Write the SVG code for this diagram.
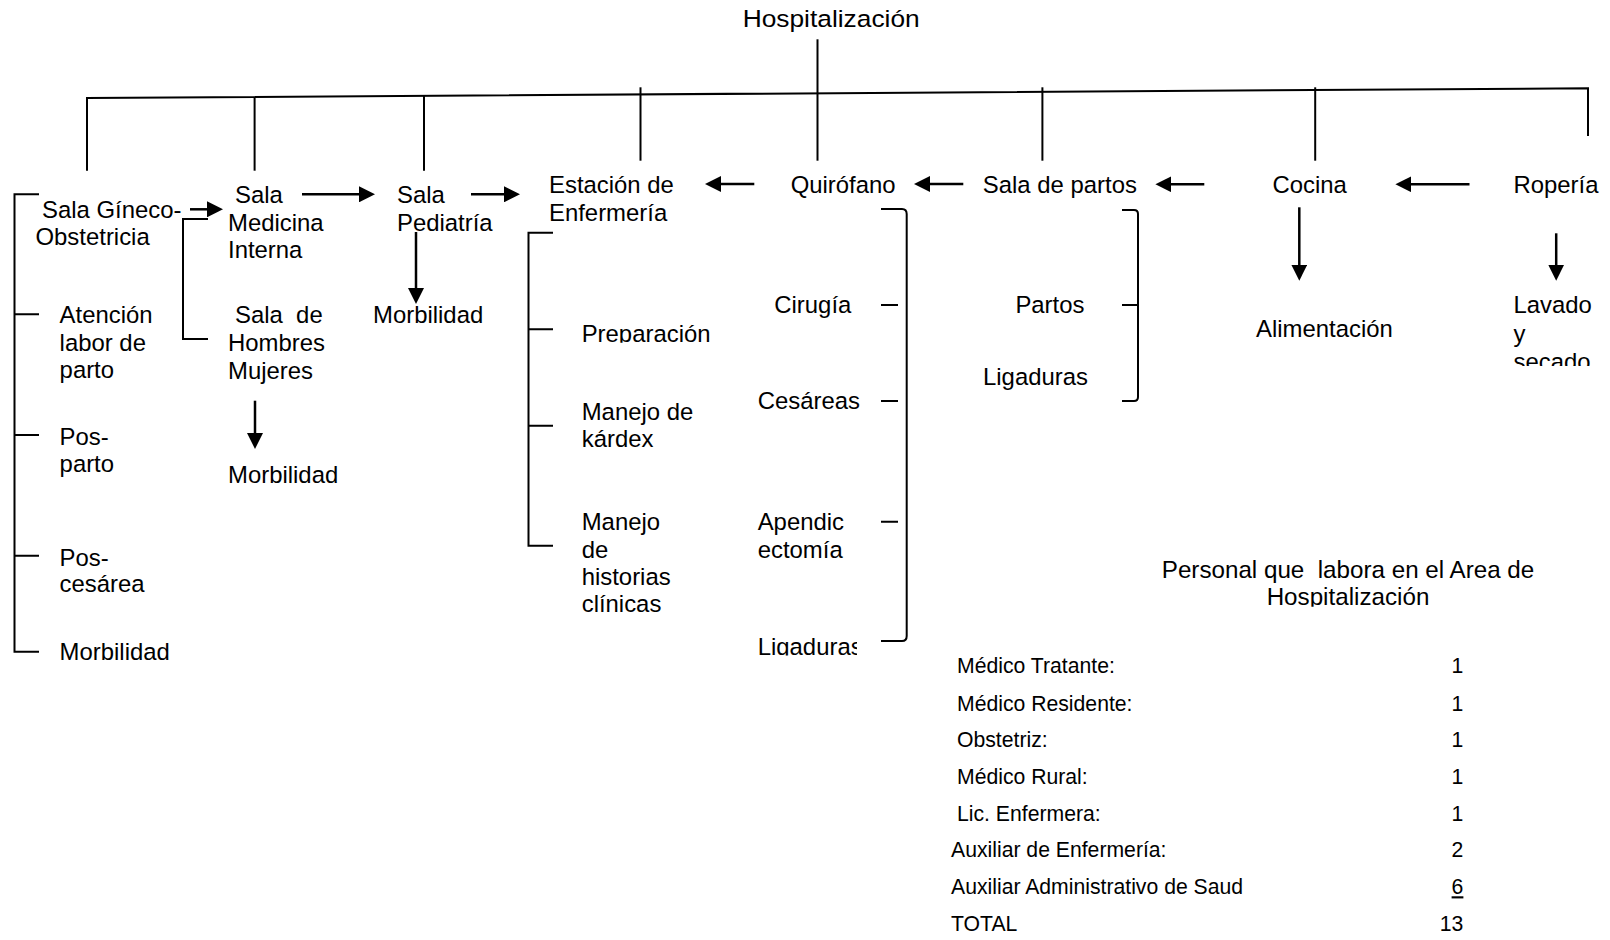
<svg xmlns="http://www.w3.org/2000/svg" width="1610" height="940" viewBox="0 0 1610 940">
<style>
text{font-family:"Liberation Sans",Arial,sans-serif;font-size:23.9px;fill:#000}
.t{font-size:21.2px}
.p{font-size:24.2px}
.ln{fill:none;stroke:#000;stroke-width:2}
.ar{fill:none;stroke:#000;stroke-width:2.5;marker-end:url(#ah)}
</style>
<defs>
<marker id="ah" markerUnits="userSpaceOnUse" markerWidth="16" markerHeight="16" refX="8" refY="8" orient="auto">
<path d="M0,0 L16,8 L0,16 z" fill="#000"/>
</marker>
<clipPath id="cPrep"><rect x="570" y="300" width="200" height="42.7"/></clipPath>
<clipPath id="cLig"><rect x="740" y="620" width="117" height="35.5"/></clipPath>
<clipPath id="cLav"><rect x="1500" y="290" width="110" height="76"/></clipPath>
<clipPath id="cHosp2"><rect x="1150" y="560" width="400" height="46.7"/></clipPath>
</defs>
<rect width="1610" height="940" fill="#fff"/>
<g id="connectors">
<path class="ln" d="M87,170.7 V98 L1588,88.3 V136"/>
<path class="ln" d="M254.6,96.9 V170.7"/>
<path class="ln" d="M424,95.8 V170.7"/>
<path class="ln" d="M640.5,87.3 V160.7"/>
<path class="ln" d="M817.5,39.3 V160.7"/>
<path class="ln" d="M1042.4,87.3 V160.7"/>
<path class="ln" d="M1315.2,87.3 V160.7"/>
<path class="ln" d="M39,194.3 H14.5 V651.7 H39 M14.5,314.3 H39 M14.5,435 H39 M14.5,555.7 H39"/>
<path class="ln" d="M208,219 H183 V339 H208"/>
<path class="ln" d="M553,232.7 H528.5 V545.7 H553 M528.5,329.3 H553 M528.5,425.7 H553"/>
<path class="ln" d="M881,209 H902 Q906.7,209 906.7,214 V636 Q906.7,641 902,641 H881"/>
<path class="ln" d="M881,305 H898 M881,401 H898 M881,521.7 H898"/>
<path class="ln" d="M1122,210 H1134 Q1138,210 1138,214 V397 Q1138,401 1134,401 H1122 M1122,305 H1138"/>
<path class="ar" d="M190,209.3 H215"/>
<path class="ar" d="M302,194.3 H367"/>
<path class="ar" d="M471,194.3 H512"/>
<path class="ar" d="M754.3,184 H713"/>
<path class="ar" d="M963.3,184 H922"/>
<path class="ar" d="M1204.3,184.3 H1163.4"/>
<path class="ar" d="M1469.5,184.3 H1403.4"/>
<path class="ar" d="M416,232 V296"/>
<path class="ar" d="M255,400.7 V441"/>
<path class="ar" d="M1299.3,207.3 V272.7"/>
<path class="ar" d="M1556.2,233.3 V272.7"/>
</g>
<g id="hospitalizacion"><text x="742.7" y="26.7" textLength="177" lengthAdjust="spacingAndGlyphs">Hospitalización</text></g>
<g id="gineco"><text x="42" y="218.3">Sala Gíneco-</text><text x="35.5" y="245">Obstetricia</text></g>
<g id="medicina"><text x="235" y="203">Sala</text><text x="228" y="230.7">Medicina</text><text x="228" y="257.7">Interna</text></g>
<g id="pediatria"><text x="397" y="203">Sala</text><text x="397" y="230.7">Pediatría</text></g>
<g id="estacion"><text x="549" y="193.3">Estación de</text><text x="549" y="220.7">Enfermería</text></g>
<g id="quirofano"><text x="790.7" y="193.3">Quirófano</text></g>
<g id="salapartos"><text x="982.8" y="193.3">Sala de partos</text></g>
<g id="cocina"><text x="1272.5" y="193.3">Cocina</text></g>
<g id="roperia"><text x="1513.5" y="193.3">Ropería</text></g>
<g id="atencion"><text x="59.6" y="323.3">Atención</text><text x="59.6" y="351">labor de</text><text x="59.6" y="378.3">parto</text></g>
<g id="posparto"><text x="59.6" y="445">Pos-</text><text x="59.6" y="471.7">parto</text></g>
<g id="poscesarea"><text x="59.6" y="565.7">Pos-</text><text x="59.6" y="592.3">cesárea</text></g>
<g id="morb-gineco"><text x="59.6" y="660">Morbilidad</text></g>
<g id="hombres"><text x="235" y="323.3" xml:space="preserve">Sala  de</text><text x="228" y="351">Hombres</text><text x="228" y="378.5">Mujeres</text></g>
<g id="morb-medicina"><text x="228" y="482.7">Morbilidad</text></g>
<g id="morb-pediatria"><text x="373" y="323.3">Morbilidad</text></g>
<g id="preparacion" clip-path="url(#cPrep)"><text x="581.7" y="341.7">Preparación</text></g>
<g id="kardex"><text x="581.7" y="420">Manejo de</text><text x="581.7" y="446.7">kárdex</text></g>
<g id="historias"><text x="581.7" y="530">Manejo</text><text x="581.7" y="557.7">de</text><text x="581.7" y="585">historias</text><text x="581.7" y="611.7">clínicas</text></g>
<g id="cirugia"><text x="774.3" y="313.3">Cirugía</text></g>
<g id="cesareas"><text x="757.7" y="409">Cesáreas</text></g>
<g id="apendicectomia"><text x="757.7" y="530">Apendic</text><text x="757.7" y="557.7">ectomía</text></g>
<g id="ligaduras-q" clip-path="url(#cLig)"><text x="757.7" y="655">Ligaduras</text></g>
<g id="partos"><text x="1015.4" y="313.3">Partos</text></g>
<g id="ligaduras-p"><text x="983" y="385">Ligaduras</text></g>
<g id="alimentacion"><text x="1256" y="336.7">Alimentación</text></g>
<g id="lavado" clip-path="url(#cLav)"><text x="1513.5" y="313.3">Lavado</text><text x="1513.5" y="341.7">y</text><text x="1513.5" y="369.5">secado</text></g>
<g id="personal" clip-path="url(#cHosp2)"><text class="p" x="1348" y="578.3" text-anchor="middle" xml:space="preserve">Personal que  labora en el Area de</text><text class="p" x="1348" y="605" text-anchor="middle">Hospitalización</text></g>
<g id="tabla">
<text class="t" x="957" y="673.3">Médico Tratante:</text><text class="t" x="1463.4" y="673.3" text-anchor="end">1</text>
<text class="t" x="957" y="710.7">Médico Residente:</text><text class="t" x="1463.4" y="710.7" text-anchor="end">1</text>
<text class="t" x="957" y="747.3">Obstetriz:</text><text class="t" x="1463.4" y="747.3" text-anchor="end">1</text>
<text class="t" x="957" y="784.3">Médico Rural:</text><text class="t" x="1463.4" y="784.3" text-anchor="end">1</text>
<text class="t" x="957" y="821">Lic. Enfermera:</text><text class="t" x="1463.4" y="821" text-anchor="end">1</text>
<text class="t" x="951" y="857.3">Auxiliar de Enfermería:</text><text class="t" x="1463.4" y="857.3" text-anchor="end">2</text>
<text class="t" x="951" y="894.3">Auxiliar Administrativo de Saud</text><text class="t" x="1463.4" y="894.3" text-anchor="end" text-decoration="underline">6</text>
<text class="t" x="951" y="931">TOTAL</text><text class="t" x="1463.4" y="931" text-anchor="end">13</text>
</g>
</svg>
